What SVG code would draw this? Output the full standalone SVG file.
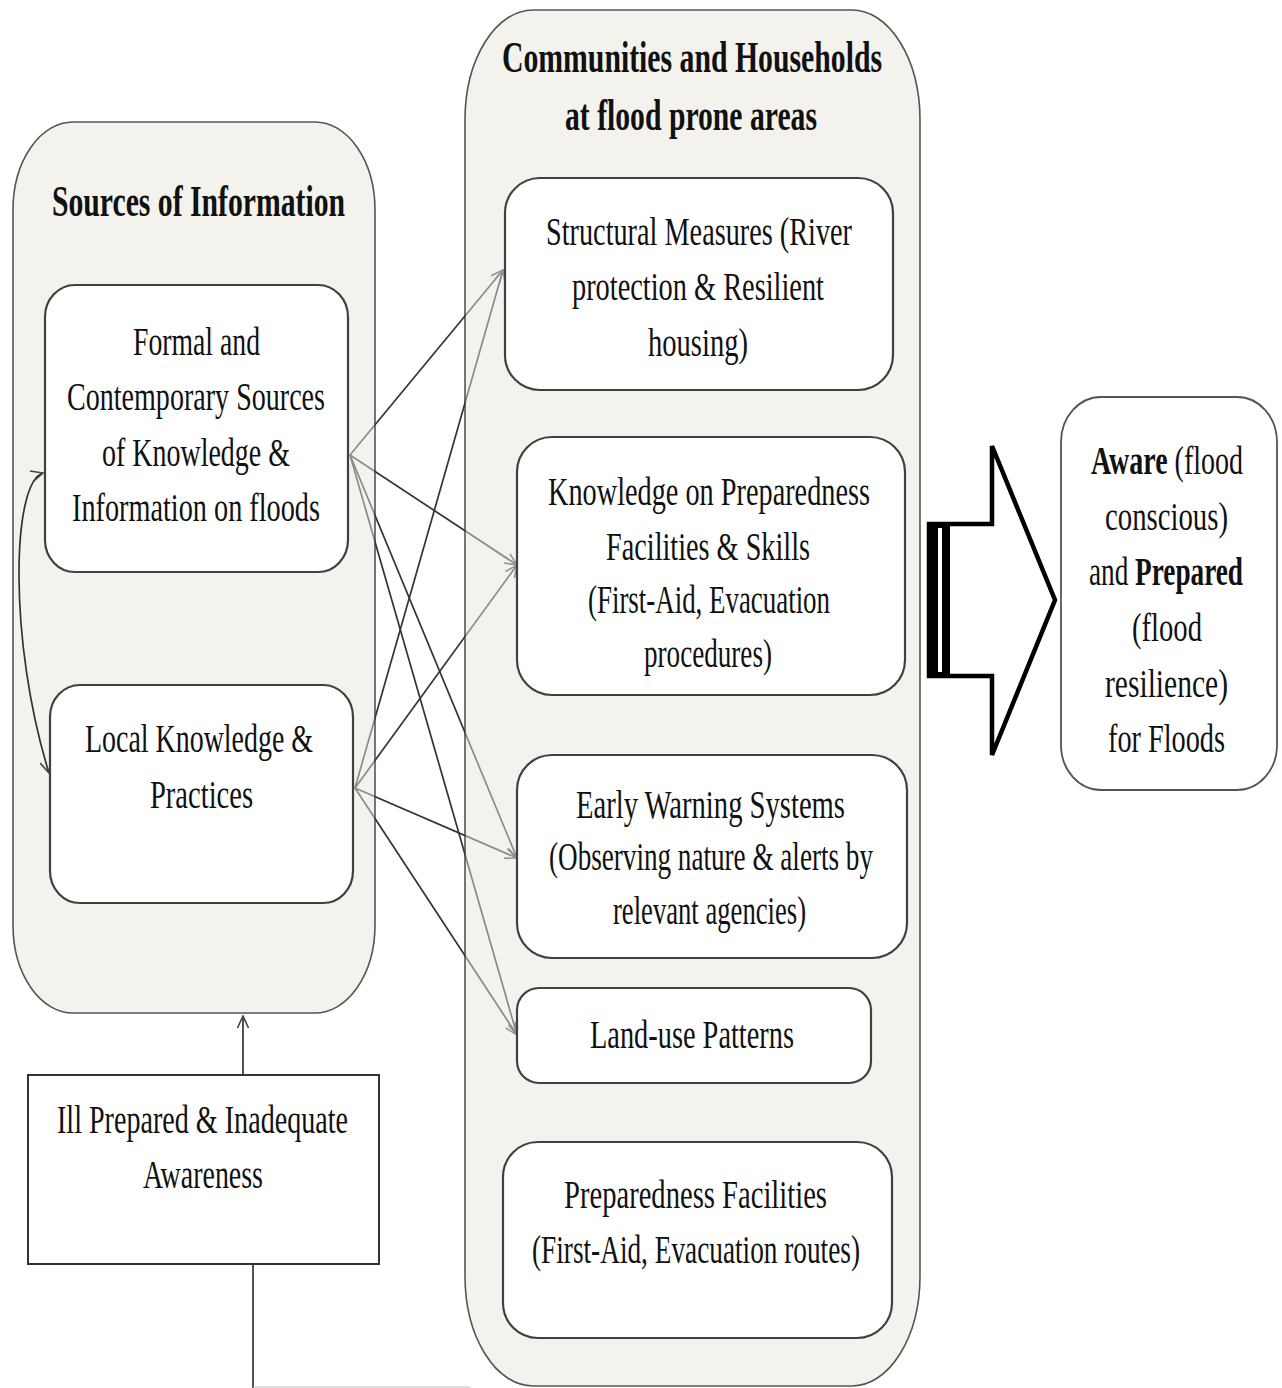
<svg xmlns="http://www.w3.org/2000/svg" width="1282" height="1388" viewBox="0 0 1282 1388">
<style>
.panel{fill:#f3f2ed;stroke:#555;stroke-width:1.6}
.box{fill:#fff;stroke:#404040;stroke-width:2.2}
.t{font-family:"Liberation Serif","Times New Roman",serif;font-size:40px;fill:#111;text-anchor:middle}
.ts{font-family:"Liberation Serif","Times New Roman",serif;font-size:40px;fill:#111;text-anchor:start}
.b{font-weight:bold}
.h{font-family:"Liberation Serif","Times New Roman",serif;font-size:45px;font-weight:bold;fill:#111;text-anchor:middle}
.c{stroke:#333;stroke-width:1.7;fill:none}
</style>
<defs>
<marker id="ah" markerUnits="userSpaceOnUse" viewBox="0 0 14 14" refX="13" refY="7" markerWidth="14" markerHeight="14" orient="auto-start-reverse">
<path d="M1,1.5 L13,7 L1,12.5" fill="none" stroke="#444" stroke-width="1.6"/>
</marker>
<mask id="veil" maskUnits="userSpaceOnUse" x="0" y="0" width="1282" height="1388">
<rect x="0" y="0" width="1282" height="1388" fill="#fff"/>
<rect x="13" y="122" width="362" height="891" rx="60" ry="88" fill="#8a8a8a"/>
<rect x="465" y="10" width="455" height="1376" rx="68" ry="110" fill="#8a8a8a"/>
</mask>
</defs>
<rect width="1282" height="1388" fill="#fff"/>

<g id="sources-panel">
<rect class="panel" x="13" y="122" width="362" height="891" rx="60" ry="88"/>
<text class="h" x="198.5" y="216" textLength="293" lengthAdjust="spacingAndGlyphs">Sources of Information</text>
</g>

<g id="communities-panel">
<rect class="panel" x="465" y="10" width="455" height="1376" rx="68" ry="110"/>
<text class="h" x="692" y="72" textLength="380" lengthAdjust="spacingAndGlyphs">Communities and Households</text>
<text class="h" x="691" y="130" textLength="252" lengthAdjust="spacingAndGlyphs">at flood prone areas</text>
</g>

<g id="connectors">
<g mask="url(#veil)">
<line class="c" x1="350" y1="455" x2="503" y2="270" marker-end="url(#ah)"/>
<line class="c" x1="350" y1="455" x2="517" y2="565" marker-end="url(#ah)"/>
<line class="c" x1="350" y1="455" x2="517" y2="858" marker-end="url(#ah)"/>
<line class="c" x1="350" y1="455" x2="517" y2="1035" marker-end="url(#ah)"/>
<line class="c" x1="355" y1="788" x2="503" y2="270" marker-end="url(#ah)"/>
<line class="c" x1="355" y1="788" x2="517" y2="565" marker-end="url(#ah)"/>
<line class="c" x1="355" y1="788" x2="517" y2="858" marker-end="url(#ah)"/>
<line class="c" x1="355" y1="788" x2="517" y2="1035" marker-end="url(#ah)"/>
</g>
<path class="c" d="M43,473 C12,482 8,640 49,773" marker-start="url(#ah)" marker-end="url(#ah)"/>
<line class="c" x1="243" y1="1075" x2="243" y2="1016" marker-end="url(#ah)"/>
<line class="c" x1="253" y1="1265" x2="253" y2="1388"/>
<line x1="253" y1="1387" x2="470" y2="1387" stroke="#bbb" stroke-width="1.2"/>
</g>

<g id="formal-sources">
<rect class="box" x="45" y="285" width="303" height="287" rx="30" ry="32"/>
<text class="t" x="196.5" y="355" textLength="127" lengthAdjust="spacingAndGlyphs">Formal and</text>
<text class="t" x="196" y="410" textLength="258" lengthAdjust="spacingAndGlyphs">Contemporary Sources</text>
<text class="t" x="196" y="466" textLength="188" lengthAdjust="spacingAndGlyphs">of Knowledge &amp;</text>
<text class="t" x="196" y="521" textLength="248" lengthAdjust="spacingAndGlyphs">Information on floods</text>
</g>

<g id="local-knowledge">
<rect class="box" x="50" y="685" width="303" height="218" rx="30" ry="32"/>
<text class="t" x="199" y="752" textLength="228" lengthAdjust="spacingAndGlyphs">Local Knowledge &amp;</text>
<text class="t" x="201.5" y="808" textLength="103" lengthAdjust="spacingAndGlyphs">Practices</text>
</g>

<g id="ill-prepared">
<rect x="28" y="1075" width="351" height="189" fill="#fff" stroke="#333" stroke-width="2"/>
<text class="t" x="202.5" y="1133" textLength="291" lengthAdjust="spacingAndGlyphs">Ill Prepared &amp; Inadequate</text>
<text class="t" x="203" y="1188" textLength="120" lengthAdjust="spacingAndGlyphs">Awareness</text>
</g>

<g id="structural-measures">
<rect class="box" x="505" y="178" width="388" height="212" rx="35" ry="35"/>
<text class="t" x="699" y="245" textLength="306" lengthAdjust="spacingAndGlyphs">Structural Measures (River</text>
<text class="t" x="698" y="300" textLength="252" lengthAdjust="spacingAndGlyphs">protection &amp; Resilient</text>
<text class="t" x="698" y="356" textLength="100" lengthAdjust="spacingAndGlyphs">housing)</text>
</g>

<g id="knowledge-preparedness">
<rect class="box" x="517" y="437" width="388" height="258" rx="35" ry="35"/>
<text class="t" x="709" y="505" textLength="322" lengthAdjust="spacingAndGlyphs">Knowledge on Preparedness</text>
<text class="t" x="708" y="560" textLength="204" lengthAdjust="spacingAndGlyphs">Facilities &amp; Skills</text>
<text class="t" x="709" y="613" textLength="242" lengthAdjust="spacingAndGlyphs">(First-Aid, Evacuation</text>
<text class="t" x="708" y="667" textLength="128" lengthAdjust="spacingAndGlyphs">procedures)</text>
</g>

<g id="early-warning">
<rect class="box" x="517" y="755" width="390" height="203" rx="35" ry="35"/>
<text class="t" x="710.5" y="818" textLength="269" lengthAdjust="spacingAndGlyphs">Early Warning Systems</text>
<text class="t" x="711" y="870" textLength="324" lengthAdjust="spacingAndGlyphs">(Observing  nature &amp; alerts by</text>
<text class="t" x="709.5" y="924" textLength="193" lengthAdjust="spacingAndGlyphs">relevant agencies)</text>
</g>

<g id="land-use">
<rect class="box" x="517" y="988" width="354" height="95" rx="22" ry="22"/>
<text class="t" x="692" y="1048" textLength="204" lengthAdjust="spacingAndGlyphs">Land-use Patterns</text>
</g>

<g id="preparedness-facilities">
<rect class="box" x="503" y="1142" width="389" height="196" rx="35" ry="35"/>
<text class="t" x="695.5" y="1208" textLength="263" lengthAdjust="spacingAndGlyphs">Preparedness Facilities</text>
<text class="t" x="696" y="1263" textLength="328" lengthAdjust="spacingAndGlyphs">(First-Aid, Evacuation  routes)</text>
</g>

<g id="big-arrow">
<polygon points="929,524 992,524 992,446 1055,600 992,755 992,676 929,676" fill="#fff" stroke="#000" stroke-width="4.5" stroke-linejoin="miter"/>
<rect x="927" y="522" width="23" height="156" fill="#000"/>
<rect x="938" y="528" width="4" height="144" fill="#fff"/>
</g>

<g id="aware-prepared">
<rect x="1061" y="397" width="216" height="393" rx="40" ry="45" fill="#fff" stroke="#555" stroke-width="1.8"/>
<text class="t" x="1167" y="474" textLength="152" lengthAdjust="spacingAndGlyphs"><tspan class="b">Aware</tspan> (flood</text>
<text class="t" x="1166.5" y="530" textLength="123" lengthAdjust="spacingAndGlyphs">conscious)</text>
<text class="t" x="1166" y="585" textLength="154" lengthAdjust="spacingAndGlyphs">and <tspan class="b">Prepared</tspan></text>
<text class="t" x="1167" y="641" textLength="70" lengthAdjust="spacingAndGlyphs">(flood</text>
<text class="t" x="1166.5" y="697" textLength="123" lengthAdjust="spacingAndGlyphs">resilience)</text>
<text class="t" x="1166.5" y="752" textLength="117" lengthAdjust="spacingAndGlyphs">for Floods</text>
</g>
</svg>
